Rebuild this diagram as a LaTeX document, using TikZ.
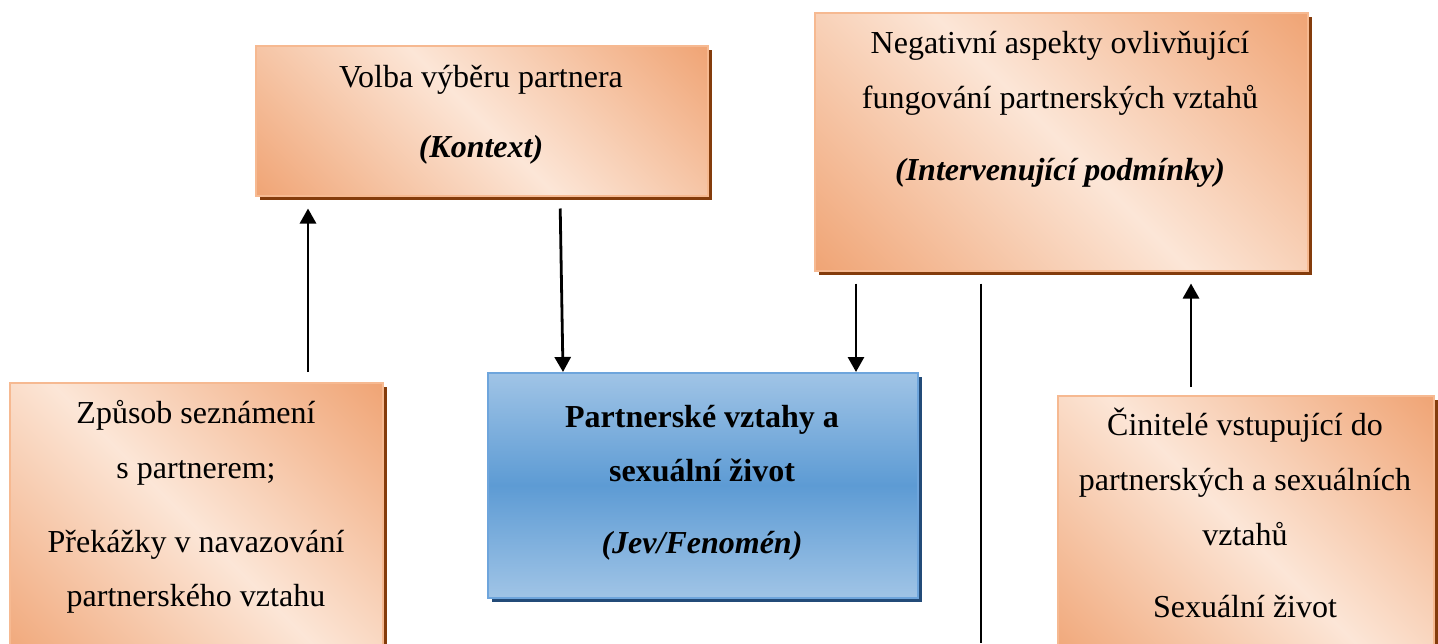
\documentclass[tikz,border=0pt]{standalone}
\usepackage{fontspec}
\setmainfont{Liberation Serif}
\usetikzlibrary{arrows.meta,shadows,calc}
\definecolor{odark}{RGB}{240,165,118}
\definecolor{olight}{RGB}{252,230,215}
\definecolor{oborder}{RGB}{246,185,145}
\definecolor{oshadow}{RGB}{132,60,12}
\definecolor{blight}{RGB}{160,196,230}
\definecolor{bmid}{RGB}{93,155,212}
\definecolor{bborder}{RGB}{110,165,220}
\definecolor{bshadow}{RGB}{35,75,120}
\pgfdeclarehorizontalshading{oshade}{100bp}{color(0bp)=(odark); color(15bp)=(odark); color(50bp)=(olight); color(85bp)=(odark); color(100bp)=(odark)}
\pgfdeclareverticalshading{bshade}{100bp}{color(0bp)=(blight); color(25bp)=(blight); color(50bp)=(bmid); color(75bp)=(blight); color(100bp)=(blight)}
\tikzset{
  obox/.style={rectangle, draw=oborder, line width=1.5pt, shading=oshade, shading angle=45,
    general shadow={fill=oshadow, shadow xshift=4pt, shadow yshift=-4pt},
    anchor=north west, inner sep=0pt},
  bbox/.style={rectangle, draw=bborder, line width=1.5pt, shading=bshade,
    general shadow={fill=bshadow, shadow xshift=4pt, shadow yshift=-4pt},
    anchor=north west, inner sep=0pt},
  txt/.style={font=\fontsize{32}{38}\selectfont, anchor=base, inner sep=0pt},
  arr/.style={line width=2.8pt, -{Triangle[width=16pt,length=15pt]}},
  ln/.style={line width=2.8pt}
}
\begin{document}
\begin{tikzpicture}[x=1pt,y=1pt]
\useasboundingbox (0,0) rectangle (1438,-643);
\clip (0,0) rectangle (1438,-643);
% boxes
\node[obox, minimum width=452pt, minimum height=150pt] (kontext) at (255,-45) {};
\node[obox, minimum width=493pt, minimum height=258pt] (neg) at (814,-12) {};
\node[obox, minimum width=373pt, minimum height=290pt] (zpusob) at (9,-382) {};
\node[bbox, minimum width=430pt, minimum height=225pt] (jev) at (487,-372) {};
\node[obox, minimum width=376pt, minimum height=275pt] (cin) at (1057,-395) {};
% texts
\node[txt] (k1) at (481,-87) {Volba výběru partnera};
\node[txt] (k2) at (481,-157) {\textbf{\textit{(Kontext)}}};
\node[txt] (n1) at (1060,-53) {Negativní aspekty ovlivňující};
\node[txt] (n2) at (1060,-108) {fungování partnerských vztahů};
\node[txt] (n3) at (1060,-180) {\textbf{\textit{(Intervenující podmínky)}}};
\node[txt] (z1) at (196,-423) {Způsob seznámení};
\node[txt] (z2) at (196,-478) {s partnerem;};
\node[txt] (z3) at (196,-552) {Překážky v navazování};
\node[txt] (z4) at (196,-606) {partnerského vztahu};
\node[txt] (j1) at (702,-427) {\textbf{Partnerské vztahy a}};
\node[txt] (j2) at (702,-481) {\textbf{sexuální život}};
\node[txt] (j3) at (702,-553) {\textbf{\textit{(Jev/Fenomén)}}};
\node[txt] (c1) at (1245,-435) {Činitelé vstupující do};
\node[txt] (c2) at (1245,-490) {partnerských a sexuálních};
\node[txt] (c3) at (1245,-545) {vztahů};
\node[txt] (c4) at (1245,-617) {Sexuální život};
% connector columns
\coordinate (xa) at (308,0);
\coordinate (xb1) at (560,0);
\coordinate (xb2) at (563,0);
\coordinate (xc) at (856,0);
\coordinate (xd) at (981,0);
\coordinate (xe) at (1191,0);
\coordinate (bottom) at (981,-643);
% connectors
\draw[arr, shorten <=10pt, shorten >=12pt] (zpusob.north -| xa) -- (kontext.south -| xa);
\draw[arr, shorten <=12pt] (kontext.south -| xb1) -- (jev.north -| xb2);
\draw[arr, shorten <=12pt] (neg.south -| xc) -- (jev.north -| xc);
\draw[ln, shorten <=12pt] (neg.south -| xd) -- (bottom);
\draw[arr, shorten <=8pt, shorten >=12pt] (cin.north -| xe) -- (neg.south -| xe);
\end{tikzpicture}
\end{document}
